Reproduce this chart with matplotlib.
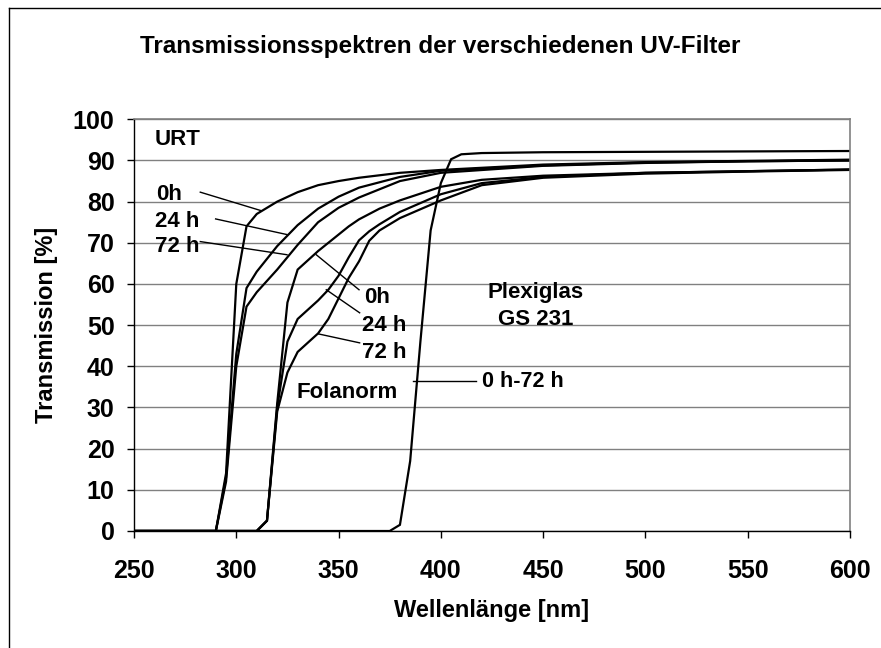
import matplotlib
matplotlib.use("Agg")
import matplotlib.pyplot as plt
from matplotlib.lines import Line2D

plt.rcParams['font.family'] = ['Liberation Sans', 'DejaVu Sans']
plt.rcParams['font.weight'] = 'bold'

# ---- data ----
urt_wl = [250, 290, 295, 300, 305, 310, 320, 330, 340, 350, 360, 380, 400, 450, 500, 550, 600]
urt_0h = [0, 0, 14, 60, 74, 77, 80, 82.3, 84, 85, 85.8, 87, 87.7, 89, 89.6, 89.9, 90.2]
urt_24h = [0, 0, 13, 43, 59, 63, 69.2, 74.3, 78.3, 81.2, 83.4, 86, 87.5, 88.8, 89.5, 89.8, 90.0]
urt_72h = [0, 0, 12, 40, 54.5, 58, 63.5, 69.5, 75, 78.5, 81, 85, 87, 88.7, 89.4, 89.8, 90.0]

fol_wl = [250, 310, 315, 320, 325, 330, 340, 345, 350, 355, 360, 365, 370, 380, 400, 420, 450, 500, 550, 600]
fol_0h = [0, 0, 2.5, 31, 55.5, 63.5, 68, 70, 72, 74, 75.7, 77, 78.3, 80.3, 83.6, 85.3, 86.3, 87, 87.4, 87.8]
fol_24h = [0, 0, 2.5, 30, 46, 51.5, 56, 58.6, 62, 66.5, 70.6, 72.8, 74.5, 77.5, 81.8, 84.5, 86, 87, 87.4, 87.8]
fol_72h = [0, 0, 2.5, 29, 38.5, 43.5, 48, 51.5, 56.5, 61.5, 65.5, 70.5, 73, 76, 80.3, 84, 85.8, 86.8, 87.3, 87.7]

plex_wl = [250, 375, 380, 385, 390, 395, 400, 405, 410, 420, 450, 500, 550, 600]
plex_0_72h = [0, 0, 1.5, 17, 46, 73, 84.5, 90.3, 91.5, 91.8, 92, 92.1, 92.2, 92.3]

x_ticks = [250, 300, 350, 400, 450, 500, 550, 600]
y_ticks = [0, 10, 20, 30, 40, 50, 60, 70, 80, 90, 100]

W, H = 881, 648
fig = plt.figure(figsize=(W / 100, H / 100), dpi=100)
ax = fig.add_axes([134 / W, 1 - 531 / H, (850 - 134) / W, (531 - 119.3) / H])

ax.set_xlim(250, 600)
ax.set_ylim(0, 100)
ax.set_xticks(x_ticks)
ax.set_yticks(y_ticks)
ax.grid(axis='y', color='#808080', linewidth=1.0)
ax.set_axisbelow(True)

lw = 1.6
for y in (urt_0h, urt_24h, urt_72h):
    ax.plot(urt_wl, y, color='black', linewidth=lw, solid_joinstyle='miter')
for y in (fol_0h, fol_24h, fol_72h):
    ax.plot(fol_wl, y, color='black', linewidth=lw, solid_joinstyle='miter')
ax.plot(plex_wl, plex_0_72h, color='black', linewidth=lw, solid_joinstyle='miter')

for s in ('top', 'right'):
    ax.spines[s].set_color('#808080')
    ax.spines[s].set_linewidth(1.2)
for s in ('left', 'bottom'):
    ax.spines[s].set_color('black')
    ax.spines[s].set_linewidth(1.0)

ax.tick_params(axis='x', direction='out', length=5, width=1, pad=15, labelsize=18)
ax.tick_params(axis='y', direction='out', length=5, width=1, pad=9, labelsize=18)
for lab in ax.get_xticklabels() + ax.get_yticklabels():
    lab.set_fontweight('bold')

# annotations
fs = 16
ax.text(260, 95, 'URT', fontsize=fs, fontweight='bold', va='center', ha='left')
ax.text(261, 81.7, '0h', fontsize=fs, fontweight='bold', va='center', ha='left')
ax.text(260.4, 75.2, '24 h', fontsize=fs, fontweight='bold', va='center', ha='left')
ax.text(260.4, 69, '72 h', fontsize=fs, fontweight='bold', va='center', ha='left')
ax.plot([282.4, 312.2], [82.3, 77.8], color='black', linewidth=1)
ax.plot([289.9, 324.8], [75.8, 72.0], color='black', linewidth=1)
ax.plot([282.4, 324.8], [70.3, 67.1], color='black', linewidth=1)

ax.text(362.7, 56.6, '0h', fontsize=fs, fontweight='bold', va='center', ha='left')
ax.text(361.4, 50.0, '24 h', fontsize=fs, fontweight='bold', va='center', ha='left')
ax.text(361.4, 43.4, '72 h', fontsize=fs, fontweight='bold', va='center', ha='left')
ax.plot([339.1, 360.0], [67.1, 58.6], color='black', linewidth=1)
ax.plot([344.0, 360.3], [58.6, 53.0], color='black', linewidth=1)
ax.plot([339.9, 360.3], [47.9, 45.7], color='black', linewidth=1)
ax.text(354.4, 33.6, 'Folanorm', fontsize=fs, fontweight='bold', va='center', ha='center')

ax.text(446.5, 58, 'Plexiglas', fontsize=fs, fontweight='bold', va='center', ha='center')
ax.text(446.5, 51.4, 'GS 231', fontsize=fs, fontweight='bold', va='center', ha='center')
ax.text(420.3, 36.4, '0 h-72 h', fontsize=fs - 0.5, fontweight='bold', va='center', ha='left')
ax.plot([386.4, 417.0], [36.4, 36.4], color='black', linewidth=1)

fig.text(440 / W, 1 - 47 / H, 'Transmissionsspektren der verschiedenen UV-Filter',
         fontsize=17.5, fontweight='bold', ha='center', va='center')
fig.text(492 / W, 1 - 610 / H, 'Wellenlänge [nm]', fontsize=17, fontweight='bold',
         ha='center', va='center')
fig.text(47 / W, 1 - 325 / H, 'Transmission [%]', fontsize=17, fontweight='bold',
         ha='center', va='center', rotation=90)

# outer frame (left and top edges visible)
fig.add_artist(Line2D([8.5 / W, 8.5 / W], [0, 1 - 7.5 / H], transform=fig.transFigure,
                      color='black', linewidth=1))
fig.add_artist(Line2D([8.5 / W, 1], [1 - 7.5 / H, 1 - 7.5 / H], transform=fig.transFigure,
                      color='black', linewidth=1))

fig.savefig('out.png', dpi=100, facecolor='white')
